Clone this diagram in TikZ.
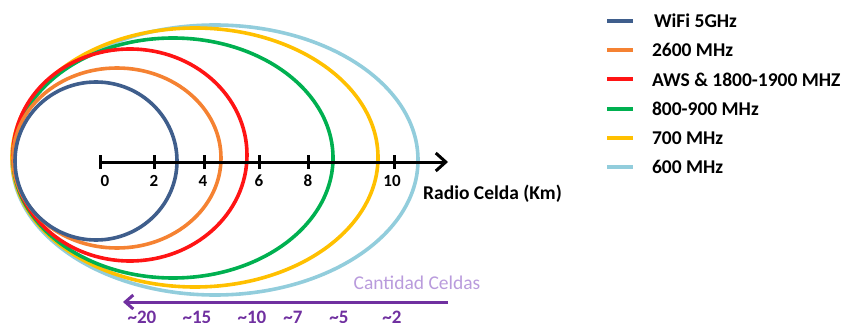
\documentclass[tikz,border=0pt]{standalone}
\usepackage{fontspec}
\setmainfont{Carlito}
\usetikzlibrary{arrows.meta, positioning}
\definecolor{wifiblue}{RGB}{63,94,140}
\definecolor{ltorange}{RGB}{245,130,50}
\definecolor{awsred}{RGB}{255,20,20}
\definecolor{ltgreen}{RGB}{0,176,80}
\definecolor{ltyellow}{RGB}{255,192,0}
\definecolor{ltblue}{RGB}{146,205,220}
\definecolor{cellpurple}{RGB}{112,48,160}
\definecolor{lightpurple}{RGB}{185,155,220}

\begin{document}
\begin{tikzpicture}[
        x=1pt, y=1pt, node distance=29.2pt, on grid,
        cell/.style={line width=3.6pt},
        tick/.style={line width=3pt},
        tick label/.style={font=\bfseries\fontsize{17}{17}\selectfont, inner sep=0pt},
        legend key/.style={line width=4pt},
        legend text/.style={font=\bfseries\fontsize{19.5}{19.5}\selectfont, anchor=west, inner sep=0pt},
        count label/.style={font=\bfseries\fontsize{19}{19}\selectfont, text=cellpurple, anchor=north, inner sep=0pt},
        ]
        \useasboundingbox (0,0) rectangle (846,322);
        % coverage of each band
        \draw[cell, ltblue]   (215,162) ellipse [x radius=203, y radius=135];
        \draw[cell, ltyellow] (195,164.5) ellipse [x radius=183, y radius=129.5];
        \draw[cell, ltgreen]  (173,164) ellipse [x radius=160, y radius=120];
        \draw[cell, awsred]   (130,167) ellipse [x radius=117, y radius=106];
        \draw[cell, ltorange] (117,164) ellipse [x radius=104, y radius=90];
        \draw[cell, wifiblue] (96,161) ellipse [x radius=81, y radius=79];

        % radius axis
        \coordinate (o) at (100,160);
        \coordinate (tip) at (448,160);
        \coordinate (t2) at (154,160);
        \coordinate (t4) at (204,160);
        \coordinate (t6) at (259,160);
        \coordinate (t8) at (308,160);
        \coordinate (t10) at (394,160);
        \draw[tick, -{Straight Barb[length=10pt, width=18pt]}] (o) -- (tip);
        \draw[tick] (o) ++(0,-7) -- ++(0,14);
        \draw[tick] (t2) ++(0,-7) -- ++(0,14);
        \draw[tick] (t4) ++(0,-7) -- ++(0,14);
        \draw[tick] (t6) ++(0,-7) -- ++(0,14);
        \draw[tick] (t8) ++(0,-7) -- ++(0,14);
        \draw[tick] (t10) ++(0,-7) -- ++(0,14);
        \node[tick label] (l0) at (105,141) {0};
        \node[tick label] (l2) at (154,141) {2};
        \node[tick label] (l4) at (203,141) {4};
        \node[tick label] (l6) at (259,141) {6};
        \node[tick label] (l8) at (308,141) {8};
        \node[tick label] (l10) at (392,141) {10};
        \node[legend text] (radio) at (423,128) {Radio Celda (Km)};

        % number of cells
        \coordinate (cstart) at (448,20);
        \coordinate (cend) at (123,20);
        \draw[cellpurple, line width=3pt, -{Straight Barb[length=8pt, width=14pt]}] (cstart) -- (cend);
        \node[font=\fontsize{19.5}{19.5}\selectfont, text=lightpurple, inner sep=0pt] (cant) at (417,39) {Cantidad Celdas};
        \node[count label] (c20) at (142,11) {\textasciitilde20};
        \node[count label] (c15) at (197,11) {\textasciitilde15};
        \node[count label] (c10) at (252,11) {\textasciitilde10};
        \node[count label] (c7) at (293,11) {\textasciitilde7};
        \node[count label] (c5) at (339,11) {\textasciitilde5};
        \node[count label] (c2) at (392,11) {\textasciitilde2};

        % legend
        \coordinate (k1) at (607,301);
        \coordinate[below=of k1] (k2);
        \coordinate[below=of k2] (k3);
        \coordinate[below=of k3] (k4);
        \coordinate[below=of k4] (k5);
        \coordinate[below=of k5] (k6);
        \draw[legend key, wifiblue] (k1) -- ++(26,0) node[legend text, xshift=19pt, text=black] (wifi) {WiFi 5GHz};
        \draw[legend key, ltorange] (k2) -- ++(26,0) node[legend text, xshift=17pt, text=black] (lte2600) {2600 MHz};
        \draw[legend key, awsred]   (k3) -- ++(26,0) node[legend text, xshift=17pt, text=black] (aws) {AWS \& 1800-1900 MHZ};
        \draw[legend key, ltgreen]  (k4) -- ++(26,0) node[legend text, xshift=17pt, text=black] (b800) {800-900 MHz};
        \draw[legend key, ltyellow] (k5) -- ++(26,0) node[legend text, xshift=17pt, text=black] (b700) {700 MHz};
        \draw[legend key, ltblue]   (k6) -- ++(26,0) node[legend text, xshift=17pt, text=black] (b600) {600 MHz};
      \end{tikzpicture}
\end{document}
